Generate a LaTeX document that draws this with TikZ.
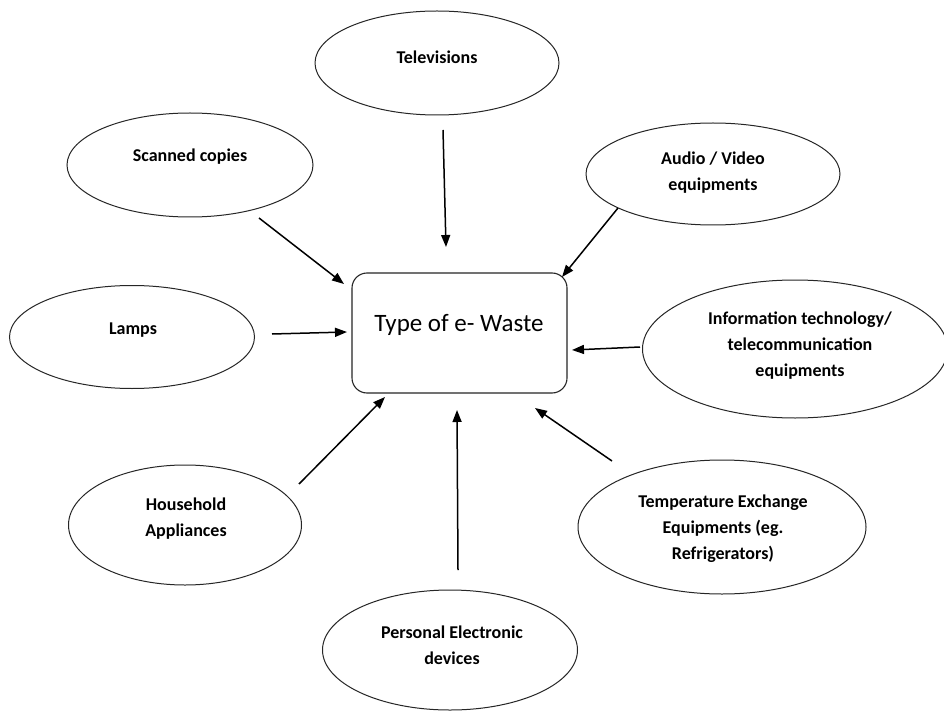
\documentclass[tikz,border=0pt]{standalone}
\usepackage{fontspec}
\setmainfont{Carlito}
\usetikzlibrary{shapes.geometric,arrows.meta}
\begin{document}
\begin{tikzpicture}[x=1pt,y=-1pt,
  bubble/.style={draw=black!85,line width=1pt,ellipse,inner sep=0pt},
  lbl/.style={font=\bfseries\fontsize{18}{26}\selectfont,align=center,inner sep=0pt},
  hub/.style={draw=black!85,line width=1.1pt,rounded corners=15pt,inner sep=0pt},
  arr/.style={line width=1.5pt,-{Triangle[length=12pt,width=9pt]}}]
\useasboundingbox (0,0) rectangle (944,711);
\fill[white] (0,0) rectangle (944,711);
% central box
\node[hub,minimum width=215pt,minimum height=120pt] (hub) at (459.5,333) {};
\node[font=\fontsize{25}{30}\selectfont,inner sep=0pt] (hubtxt) at (459,325) {Type of e- Waste};
% ellipses
\node[bubble,minimum width=244pt,minimum height=104pt] (tv) at (437,63) {};
\node[lbl] (tvt) at (437,57) {Televisions};
\node[bubble,minimum width=246pt,minimum height=104pt] (sc) at (190,165) {};
\node[lbl] (sct) at (190,157) {Scanned copies};
\node[bubble,minimum width=254pt,minimum height=102pt] (av) at (713,174) {};
\node[lbl] (avt) at (713,173) {Audio / Video\\equipments};
\node[bubble,minimum width=245pt,minimum height=103pt] (lp) at (132,337) {};
\node[lbl] (lpt) at (133,330) {Lamps};
\node[bubble,minimum width=305pt,minimum height=138pt] (it) at (795,349) {};
\node[lbl] (itt) at (800,346) {Information technology/\\telecommunication\\equipments};
\node[bubble,minimum width=233pt,minimum height=120pt] (hh) at (185,525) {};
\node[lbl] (hht) at (186,519) {Household\\Appliances};
\node[bubble,minimum width=288pt,minimum height=134pt] (te) at (722,527) {};
\node[lbl] (tet) at (723,529) {Temperature Exchange\\Equipments (eg.\\Refrigerators)};
\node[bubble,minimum width=255pt,minimum height=120pt] (pe) at (450,650) {};
\node[lbl] (pet) at (452,645) {Personal Electronic\\devices};
% arrow end points
\coordinate (tvS) at (443,130);  \coordinate (tvE) at (446,247);
\coordinate (scS) at (259,218);  \coordinate (scE) at (344,284);
\coordinate (avS) at (618,208);  \coordinate (avE) at (562,277);
\coordinate (lpS) at (272,334);  \coordinate (lpE) at (347,332);
\coordinate (itS) at (640,347);  \coordinate (itE) at (572,350);
\coordinate (hhS) at (299,484);  \coordinate (hhE) at (385,397);
\coordinate (peS) at (458,570);  \coordinate (peE) at (457,410);
\coordinate (teS) at (612,461);  \coordinate (teE) at (535,408);
\draw[arr] (tvS) -- (tvE);
\draw[arr] (scS) -- (scE);
\draw[arr] (avS) -- (avE);
\draw[arr] (lpS) -- (lpE);
\draw[arr] (itS) -- (itE);
\draw[arr] (hhS) -- (hhE);
\draw[arr] (peS) -- (peE);
\draw[arr] (teS) -- (teE);
\end{tikzpicture}
\end{document}
